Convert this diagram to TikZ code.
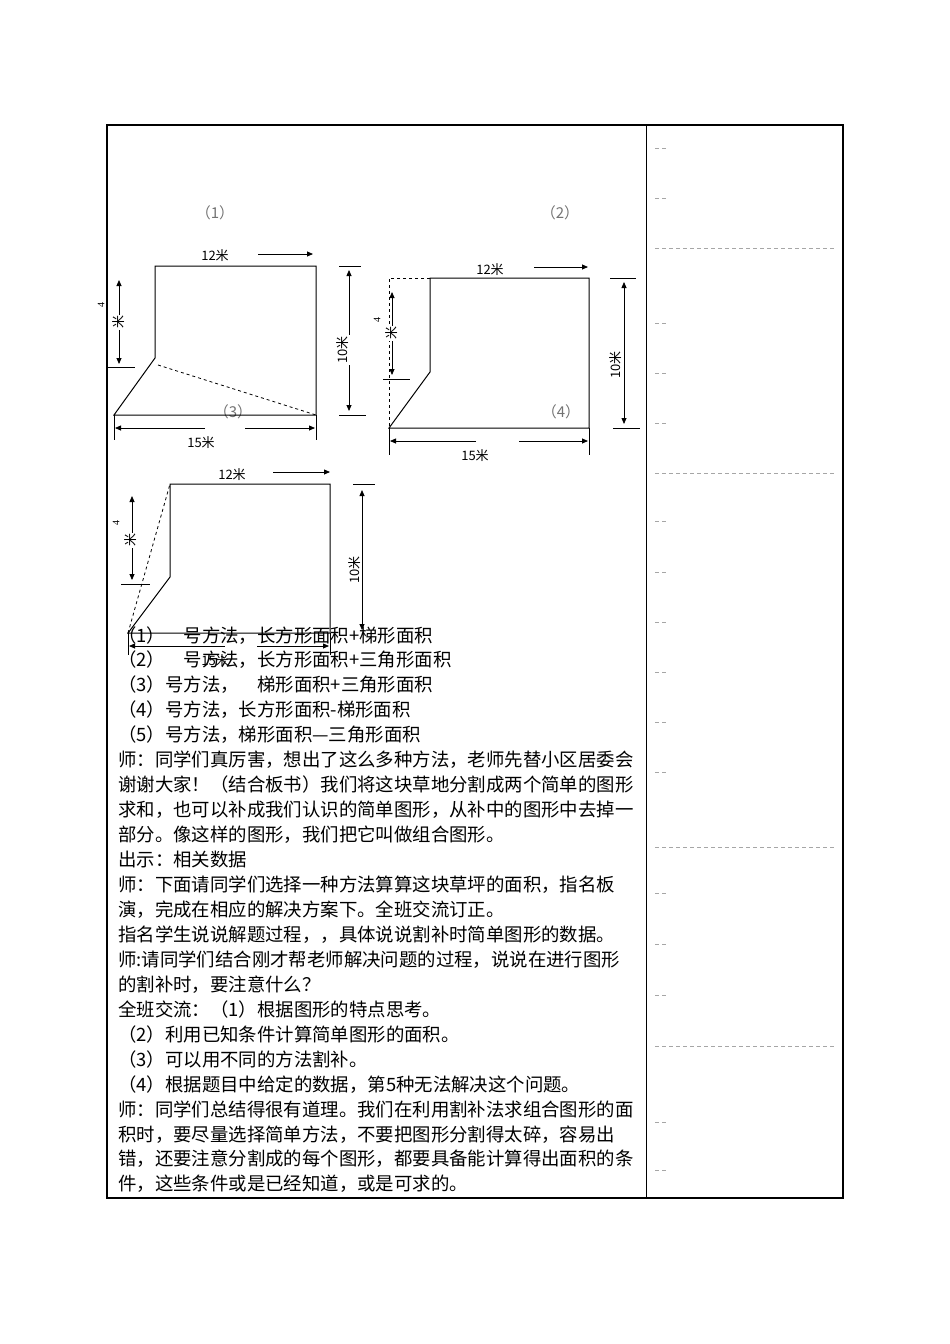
\documentclass[tikz,border=0pt]{standalone}
\usepackage{fontspec}
\setmainfont{Liberation Serif}
\setsansfont{Liberation Sans}
\newfontfamily\cjk{Noto Sans CJK SC}
\usetikzlibrary{arrows.meta}
\begin{document}
\begin{tikzpicture}[x=1pt,y=-1pt,
  fig/.style={line width=1pt},
  dsh/.style={dashed,line width=0.8pt},
  dim/.style={line width=0.8pt,-{Triangle[length=6pt,width=5pt]}},
  tick/.style={line width=0.8pt},
  lab/.style={font=\sffamily\cjk\fontsize{13}{13}\selectfont,inner sep=1pt,fill=white},
  num/.style={font=\cjk\fontsize{15}{15}\selectfont,text=black!55,inner sep=0pt},
  body/.style={font=\cjk\fontsize{18.4}{18.4}\selectfont,anchor=base west,inner sep=0pt},
  gd/.style={gray!70,dashed,line width=0.7pt,dash pattern=on 4pt off 3pt}]
\useasboundingbox (0,0) rectangle (950,1344);
% table
\draw[line width=1.8pt] (107,125) rectangle (843,1198);
\draw[line width=0.8pt] (646,125) -- (646,1198);
\foreach \y in {148,198,323,373,423,521,572,622,672,722,772,893,944,995,1122,1170}
  \draw[gd] (655,\y) -- (668,\y);
\foreach \y in {248,473,847,1046}
  \draw[gd] (655,\y) -- (835,\y);
% labels
\node[num] (l1) at (215,213) {（1）};
\node[num] (l2) at (560,213) {（2）};
\node[num] (l3) at (233,412) {（3）};
\node[num] (l4) at (561,412) {（4）};
% ---------- figure 1
\coordinate (a1) at (155,266); \coordinate (b1) at (316,266);
\coordinate (c1) at (316,415); \coordinate (d1) at (114,415); \coordinate (k1) at (155,358);
\draw[fig] (k1) -- (a1) -- (b1) -- (c1) -- (d1) -- cycle;
\draw[dsh] (158,365) -- (c1);
\node[lab] (t12a) at (215,256) {12米};
\draw[dim] (258,254) -- (313,254);
\draw[tick] (107,367) -- (135,367);
\draw[dim] (119,322) -- (119,280);
\draw[dim] (119,322) -- (119,364);
\node[lab,rotate=90] (m1) at (119,322) {米};
\node[font=\fontsize{10}{10}\selectfont,rotate=90,inner sep=0pt] (f1) at (101,305) {4};
\draw[tick] (339,266) -- (361,266); \draw[tick] (339,415) -- (366,415);
\draw[dim] (349,345) -- (349,270); \draw[dim] (349,345) -- (349,411);
\node[lab,rotate=90] (h1) at (343,350) {10米};
\draw[tick] (114,415) -- (114,440); \draw[tick] (316,415) -- (316,440);
\draw[dim] (205,428) -- (115,428); \draw[dim] (245,428) -- (315,428);
\node[lab,fill=none] (w1) at (201,443) {15米};
% ---------- figure 2
\coordinate (a2) at (430,278); \coordinate (b2) at (589,278);
\coordinate (c2) at (589,428); \coordinate (d2) at (389,428); \coordinate (k2) at (430,372);
\draw[fig] (k2) -- (a2) -- (b2) -- (c2) -- (d2) -- cycle;
\draw[dsh] (a2) -- (389,278) -- (d2);
\node[lab] (t12b) at (490,270) {12米};
\draw[dim] (534,267) -- (588,267);
\draw[tick] (383,379) -- (410,379);
\draw[dim] (392,333) -- (392,292);
\draw[dim] (392,333) -- (392,375);
\node[lab,rotate=90] (m2) at (392,333) {米};
\node[font=\fontsize{10}{10}\selectfont,rotate=90,inner sep=0pt] (f2) at (377,320) {4};
\draw[tick] (610,278) -- (636,278); \draw[tick] (613,428) -- (640,428);
\draw[dim] (624,360) -- (624,282); \draw[dim] (624,360) -- (624,424);
\node[lab,rotate=90] (h2) at (616,365) {10米};
\draw[tick] (389,428) -- (389,455); \draw[tick] (589,428) -- (589,455);
\draw[dim] (476,441) -- (390,441); \draw[dim] (519,441) -- (588,441);
\node[lab,fill=none] (w2) at (475,456) {15米};
% ---------- figure 3
\coordinate (a3) at (170,484); \coordinate (b3) at (330,484);
\coordinate (c3) at (330,633); \coordinate (d3) at (128,633); \coordinate (k3) at (170,577);
\draw[fig] (k3) -- (a3) -- (b3) -- (c3) -- (d3) -- cycle;
\draw[dsh] (d3) -- (a3);
\node[lab] (t12c) at (232,475) {12米};
\draw[dim] (273,472) -- (330,472);
\draw[tick] (121,584) -- (150,584);
\draw[dim] (132,540) -- (132,496);
\draw[dim] (132,540) -- (132,580);
\node[lab,rotate=90] (m3) at (131,540) {米};
\node[font=\fontsize{10}{10}\selectfont,rotate=90,inner sep=0pt] (f3) at (116,523) {4};
\draw[tick] (353,484) -- (375,484);
\draw[dim] (362,565) -- (362,490); \draw[dim] (362,565) -- (362,630);
\node[lab,rotate=90] (h3) at (355,570) {10米};
\draw[tick] (128,633) -- (128,655); \draw[tick] (330,633) -- (330,655);
\draw[dim] (225,646) -- (129,646); \draw[dim] (257,646) -- (329,646);
\node[lab,fill=none] (w3) at (215,661) {15米};
% ---------- body text
\foreach \t [count=\i] in {
 {（1）　号方法，长方形面积+梯形面积},
 {（2）　号方法，长方形面积+三角形面积},
 {（3）号方法，　梯形面积+三角形面积},
 {（4）号方法，长方形面积-梯形面积},
 {（5）号方法，梯形面积—三角形面积},
 {师：同学们真厉害，想出了这么多种方法，老师先替小区居委会},
 {谢谢大家！（结合板书）我们将这块草地分割成两个简单的图形},
 {求和，也可以补成我们认识的简单图形，从补中的图形中去掉一},
 {部分。像这样的图形，我们把它叫做组合图形。},
 {出示：相关数据},
 {师：下面请同学们选择一种方法算算这块草坪的面积，指名板},
 {演，完成在相应的解决方案下。全班交流订正。},
 {指名学生说说解题过程，，具体说说割补时简单图形的数据。},
 {师:请同学们结合刚才帮老师解决问题的过程，说说在进行图形},
 {的割补时，要注意什么？},
 {全班交流：（1）根据图形的特点思考。},
 {（2）利用已知条件计算简单图形的面积。},
 {（3）可以用不同的方法割补。},
 {（4）根据题目中给定的数据，第5种无法解决这个问题。},
 {师：同学们总结得很有道理。我们在利用割补法求组合图形的面},
 {积时，要尽量选择简单方法，不要把图形分割得太碎，容易出},
 {错，还要注意分割成的每个图形，都要具备能计算得出面积的条},
 {件，这些条件或是已经知道，或是可求的。}}
 \node[body] (txt\i) at (118,{642+(\i-1)*24.95}) {\t};
\end{tikzpicture}
\end{document}
